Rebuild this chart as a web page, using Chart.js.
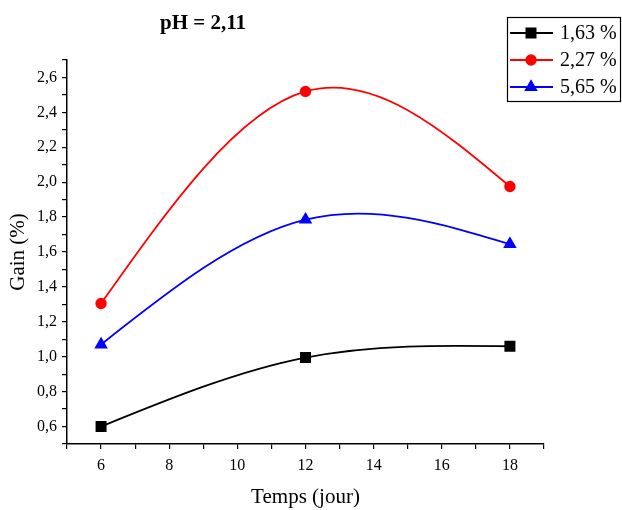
<!DOCTYPE html>
<html>
<head>
<meta charset="utf-8">
<script src="https://cdn.jsdelivr.net/npm/chart.js@4/dist/chart.umd.min.js"></script>
<style>
html,body{margin:0;padding:0;background:#fff;}
#wrap{width:622px;height:510px;position:relative;}
</style>
</head>
<body>
<div id="wrap"><canvas id="c" width="622" height="510"></canvas></div>
<script>
const days = [6, 12, 18];
const gain163 = [0.60, 0.995, 1.06];
const gain227 = [1.305, 2.52, 1.975];
const gain565 = [1.07, 1.785, 1.645];
const seriesLabels = ['1,63 %', '2,27 %', '5,65 %'];
const titleText = 'pH = 2,11';
const xTitle = 'Temps (jour)';
const yTitle = 'Gain (%)';

const SERIF = '"Liberation Serif", "Times New Roman", serif';

function mk(label, ys, color, style, r) {
  return {
    label: label,
    data: days.map((d, i) => ({x: d, y: ys[i]})),
    borderColor: color,
    backgroundColor: color,
    pointStyle: style,
    pointRadius: r,
    pointHoverRadius: r,
    borderWidth: 1.8,
    tension: 0.4,
    fill: false
  };
}

// natural cubic spline slopes (data space)
function splineSlopes(xs, ys) {
  const n = xs.length;
  const h = [], M = new Array(n).fill(0);
  for (let i = 0; i < n - 1; i++) h.push(xs[i + 1] - xs[i]);
  if (n > 2) {
    const a = [], b = [], c = [], d = [];
    for (let i = 1; i < n - 1; i++) {
      a.push(h[i - 1]); b.push(2 * (h[i - 1] + h[i])); c.push(h[i]);
      d.push(6 * ((ys[i + 1] - ys[i]) / h[i] - (ys[i] - ys[i - 1]) / h[i - 1]));
    }
    const m = b.length;
    for (let i = 1; i < m; i++) {
      const w = a[i] / b[i - 1];
      b[i] -= w * c[i - 1]; d[i] -= w * d[i - 1];
    }
    const sol = new Array(m);
    sol[m - 1] = d[m - 1] / b[m - 1];
    for (let i = m - 2; i >= 0; i--) sol[i] = (d[i] - c[i] * sol[i + 1]) / b[i];
    for (let i = 0; i < m; i++) M[i + 1] = sol[i];
  }
  const s = [];
  for (let i = 0; i < n; i++) {
    if (i < n - 1) {
      s.push((ys[i + 1] - ys[i]) / h[i] - h[i] * (2 * M[i] + M[i + 1]) / 6);
    } else {
      s.push((ys[i] - ys[i - 1]) / h[i - 1] + h[i - 1] * (M[i - 1] + 2 * M[i]) / 6);
    }
  }
  return s;
}

const splinePlugin = {
  id: 'natSpline',
  beforeDatasetsDraw(chart) {
    const xs = chart.scales.x, ysc = chart.scales.y;
    chart.data.datasets.forEach((ds, di) => {
      const meta = chart.getDatasetMeta(di);
      const line = meta.dataset;
      line.updateControlPoints(chart.chartArea, 'x');
      const px = ds.data.map(p => p.x), py = ds.data.map(p => p.y);
      const sl = splineSlopes(px, py);
      const pts = meta.data;
      for (let i = 0; i < pts.length; i++) {
        const pt = pts[i];
        if (i > 0) {
          const hh = (px[i] - px[i - 1]) / 3;
          pt.cp1x = xs.getPixelForValue(px[i] - hh);
          pt.cp1y = ysc.getPixelForValue(py[i] - sl[i] * hh);
        } else { pt.cp1x = pt.x; pt.cp1y = pt.y; }
        if (i < pts.length - 1) {
          const hh = (px[i + 1] - px[i]) / 3;
          pt.cp2x = xs.getPixelForValue(px[i] + hh);
          pt.cp2y = ysc.getPixelForValue(py[i] + sl[i] * hh);
        } else { pt.cp2x = pt.x; pt.cp2y = pt.y; }
      }
      line._pointsUpdated = true;
      line._path = undefined;
    });
  }
};

const overlay = {
  id: 'overlay',
  afterDraw(chart) {
    const ctx = chart.ctx;
    ctx.save();
    ctx.fillStyle = '#000';
    ctx.font = 'bold 21px ' + SERIF;
    ctx.textAlign = 'center';
    ctx.textBaseline = 'alphabetic';
    ctx.fillText(titleText, 203, 29);
    const bx = 507, by = 17, bw = 113, bh = 84;
    ctx.strokeStyle = '#000';
    ctx.lineWidth = 1.2;
    ctx.strokeRect(bx + 0.5, by + 0.5, bw, bh);
    const rows = [33, 60, 87];
    chart.data.datasets.forEach((ds, i) => {
      const y = rows[i];
      ctx.strokeStyle = ds.borderColor;
      ctx.lineWidth = 1.8;
      ctx.beginPath();
      ctx.moveTo(510, y);
      ctx.lineTo(553, y);
      ctx.stroke();
      Chart.helpers.drawPoint(ctx, {pointStyle: ds.pointStyle, radius: ds.pointRadius, borderWidth: 1}, 531, y);
      ctx.fillStyle = ds.borderColor;
      ctx.fill();
      ctx.fillStyle = '#000';
      ctx.font = '20px ' + SERIF;
      ctx.textAlign = 'left';
      ctx.textBaseline = 'middle';
      ctx.fillText(ds.label, 560, y + 1);
    });
    ctx.restore();
  }
};

new Chart(document.getElementById('c'), {
  type: 'line',
  data: {
    datasets: [
      mk(seriesLabels[0], gain163, '#000000', 'rect', 6.5),
      mk(seriesLabels[1], gain227, '#ff0000', 'circle', 4.8),
      mk(seriesLabels[2], gain565, '#0000ff', 'triangle', 6)
    ]
  },
  options: {
    responsive: false,
    animation: false,
    layout: {padding: {left: 0, top: 60, right: 78, bottom: 0}},
    plugins: {legend: {display: false}, title: {display: false}, tooltip: {enabled: false}},
    scales: {
      x: {
        type: 'linear', min: 5, max: 19,
        border: {display: true, color: '#000', width: 1.5},
        grid: {display: true, drawOnChartArea: false, drawTicks: true, tickLength: 5, color: '#000', lineWidth: 1.2},
        ticks: {
          stepSize: 1, autoSkip: false, maxRotation: 0, color: '#000', padding: 7,
          font: {family: SERIF, size: 16},
          callback: v => (Math.round(v) % 2 === 0 ? String(v) : '')
        },
        title: {display: true, text: xTitle, color: '#000', font: {family: SERIF, size: 21}, padding: {top: 4, bottom: 0}},
        afterFit: s => { s.height = 66; }
      },
      y: {
        type: 'linear', min: 0.5, max: 2.7,
        border: {display: true, color: '#000', width: 1.5},
        grid: {display: true, drawOnChartArea: false, drawTicks: true, tickLength: 5, color: '#000', lineWidth: 1.2},
        ticks: {
          stepSize: 0.1, autoSkip: false, color: '#000', padding: 5,
          font: {family: SERIF, size: 16},
          callback: v => (Math.round(v * 10) % 2 === 0 ? v.toFixed(1).replace('.', ',') : '')
        },
        title: {display: true, text: yTitle, color: '#000', font: {family: SERIF, size: 21}, padding: {top: 6, bottom: 0}},
        afterFit: s => { s.width = 67; }
      }
    }
  },
  plugins: [splinePlugin, overlay]
});
</script>
</body>
</html>
